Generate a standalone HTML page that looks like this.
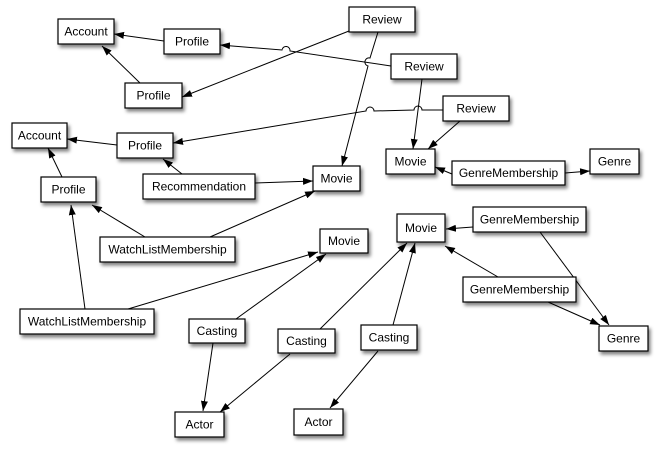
<!DOCTYPE html>
<html><head><meta charset="utf-8"><style>
body{margin:0;background:#fff;}
svg text{font-family:"Liberation Sans",Arial,sans-serif;font-size:12px;fill:#000;text-anchor:middle;dominant-baseline:central;}
.b{fill:#fff;stroke:#000;stroke-width:1.2;filter:url(#sh);}
.l{stroke:#000;stroke-width:1;fill:none;}
</style></head><body>
<svg width="659" height="452" viewBox="0 0 659 452" xmlns="http://www.w3.org/2000/svg">
<defs>
<marker id="a" viewBox="0 0 10 10" refX="10" refY="5" markerWidth="10" markerHeight="10" markerUnits="userSpaceOnUse" orient="auto"><path d="M0,1.5 L10,5 L0,8.5z" fill="#000"/></marker>
<filter id="sh" x="-20%" y="-30%" width="150%" height="180%"><feGaussianBlur in="SourceAlpha" stdDeviation="1.8"/><feOffset dx="2" dy="3"/><feComponentTransfer><feFuncA type="linear" slope="0.5"/></feComponentTransfer><feMerge><feMergeNode/><feMergeNode in="SourceGraphic"/></feMerge></filter>
</defs>
<g class="l" marker-end="url(#a)">
<path d="M164,41 L114,34"/>
<path d="M140,83 L102,46"/>
<path d="M349,31 L182,97"/>
<path d="M391,66 L290,51 A4,4 0 0 0 282,50 L220,45"/>
<path d="M378,32 L370,58 A4,4 0 0 0 368,66 L342,166"/>
<path d="M443,110 L422,110 A4,4 0 0 0 414,110 L374,111 A4,4 0 0 0 366,111 L173,143"/>
<path d="M422,79 L413,149"/>
<path d="M460,121 L428,149"/>
<path d="M117,145 L67,139"/>
<path d="M62,177 L48,148"/>
<path d="M182,174 L163,159"/>
<path d="M255,183 L313,181"/>
<path d="M145,237 L92,205"/>
<path d="M210,237 L315,191"/>
<path d="M85,309 L71,205"/>
<path d="M128,309 L318,252"/>
<path d="M236,319 L326,254"/>
<path d="M213,343 L203,411"/>
<path d="M320,329 L407,243"/>
<path d="M290,354 L220,412"/>
<path d="M393,325 L415,243"/>
<path d="M378,351 L330,408"/>
<path d="M452,174 L435,167"/>
<path d="M565,173 L590,171"/>
<path d="M473,227 L446,229"/>
<path d="M540,232 L609,325"/>
<path d="M498,277 L445,246"/>
<path d="M548,302 L600,325"/>
</g>
<g>
<rect class="b" x="58" y="19" width="56" height="25"/><text x="86" y="31.5">Account</text>
<rect class="b" x="164" y="29" width="56" height="25"/><text x="192" y="41.5">Profile</text>
<rect class="b" x="125" y="83" width="57" height="25"/><text x="153.5" y="95.5">Profile</text>
<rect class="b" x="12" y="123" width="55" height="25"/><text x="39.5" y="135.5">Account</text>
<rect class="b" x="117" y="133" width="56" height="25"/><text x="145" y="145.5">Profile</text>
<rect class="b" x="41" y="177" width="55" height="25"/><text x="68.5" y="189.5">Profile</text>
<rect class="b" x="143" y="174" width="112" height="25"/><text x="199" y="186.5">Recommendation</text>
<rect class="b" x="313" y="166" width="47" height="25"/><text x="336.5" y="178.5">Movie</text>
<rect class="b" x="349" y="7" width="66" height="25"/><text x="382" y="19.5">Review</text>
<rect class="b" x="391" y="54" width="66" height="25"/><text x="424" y="66.5">Review</text>
<rect class="b" x="443" y="96" width="66" height="25"/><text x="476" y="108.5">Review</text>
<rect class="b" x="386" y="149" width="49" height="25"/><text x="410.5" y="161.5">Movie</text>
<rect class="b" x="452" y="161" width="113" height="24"/><text x="508.5" y="173">GenreMembership</text>
<rect class="b" x="590" y="149" width="49" height="25"/><text x="614.5" y="161.5">Genre</text>
<rect class="b" x="100" y="237" width="135" height="25"/><text x="167.5" y="249.5">WatchListMembership</text>
<rect class="b" x="320" y="229" width="48" height="24"/><text x="344" y="241">Movie</text>
<rect class="b" x="397" y="214" width="48" height="28"/><text x="421" y="228">Movie</text>
<rect class="b" x="473" y="207" width="113" height="25"/><text x="529.5" y="219.5">GenreMembership</text>
<rect class="b" x="463" y="277" width="113" height="25"/><text x="519.5" y="289.5">GenreMembership</text>
<rect class="b" x="599" y="326" width="49" height="25"/><text x="623.5" y="338.5">Genre</text>
<rect class="b" x="20" y="309" width="134" height="25"/><text x="87" y="321.5">WatchListMembership</text>
<rect class="b" x="189" y="319" width="56" height="24"/><text x="217" y="331">Casting</text>
<rect class="b" x="278" y="329" width="57" height="24"/><text x="306.5" y="341">Casting</text>
<rect class="b" x="361" y="325" width="56" height="25"/><text x="389" y="337.5">Casting</text>
<rect class="b" x="175" y="412" width="49" height="25"/><text x="199.5" y="424.5">Actor</text>
<rect class="b" x="294" y="409" width="49" height="26"/><text x="318.5" y="422">Actor</text>
</g>
</svg>
</body></html>
